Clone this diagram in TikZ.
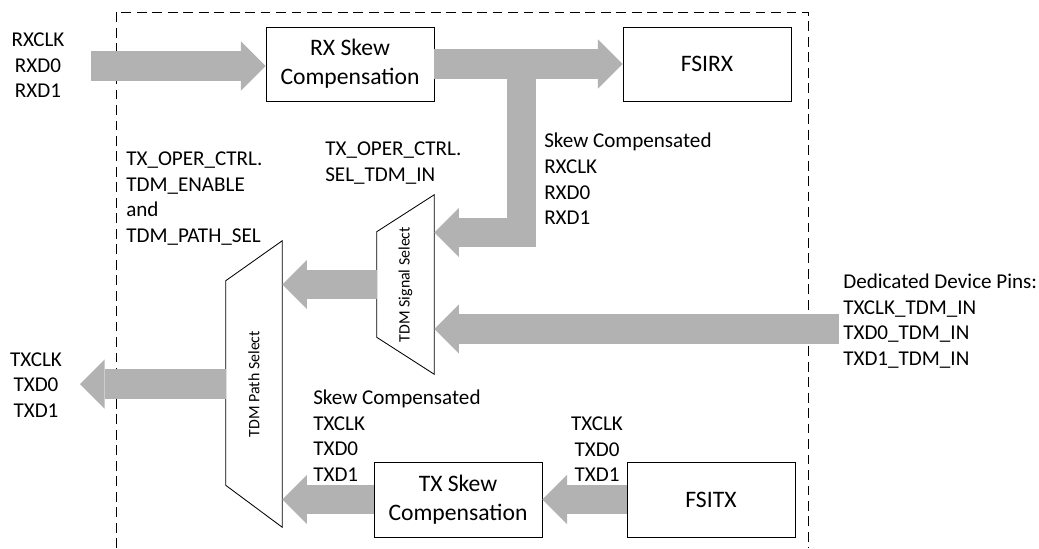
\documentclass[tikz,border=0pt]{standalone}
\usepackage{fontspec}
\setmainfont{Carlito}
\usetikzlibrary{arrows.meta,calc}
\definecolor{busgray}{RGB}{178,178,178}
\begin{document}
\begin{tikzpicture}[x=0.025cm,y=-0.025cm,line join=miter,
	lbl/.style={inner sep=0pt,font=\fontsize{15pt}{18.2pt}\selectfont},
	blk/.style={draw,line width=0.6pt,align=center,inner sep=0pt,font=\fontsize{16.8pt}{20.5pt}\selectfont},
	mux/.style={inner sep=0pt,font=\fontsize{11.3pt}{13pt}\selectfont},
	muxline/.style={draw,line width=0.6pt},
	bus/.style={draw=busgray,line width=21.3pt,-{Triangle[length=17.5pt,width=35pt,line width=0pt]}}]
	\def\pxu{0.025cm} % one pixel of the layout
	\useasboundingbox (0,0) rectangle (1039,548);
	\draw[dash pattern=on 7pt off 4pt,line width=0.6pt] (116,548) |- (808,12) -- (808,548);
	% blocks
	\node[blk,minimum width=168*\pxu,minimum height=74*\pxu] (rxskew) at (350,64) {RX Skew\\Compensation};
	\node[blk,minimum width=168*\pxu,minimum height=74*\pxu] (fsirx) at (707,64) {FSIRX};
	\node[blk,minimum width=168*\pxu,minimum height=75*\pxu] (txskew) at (458,499.5) {TX Skew\\Compensation};
	\node[blk,minimum width=168*\pxu,minimum height=75*\pxu] (fsitx) at (711,499.5) {FSITX};
	% muxes
	\node[mux,minimum width=57*\pxu,minimum height=179*\pxu] (sigsel) at (405.5,284.5) {\rotatebox{90}{TDM Signal Select}};
	\node[mux,minimum width=56*\pxu,minimum height=286*\pxu] (pathsel) at (254,384) {\rotatebox{90}{TDM Path Select}};
	\draw[muxline] (sigsel.north east) -- (sigsel.south east) -- ($(sigsel.south west)+(0,-37)$) -- ($(sigsel.north west)+(0,37)$) -- cycle;
	\draw[muxline] (pathsel.north east) -- (pathsel.south east) -- ($(pathsel.south west)+(0,-42)$) -- ($(pathsel.north west)+(0,40)$) -- cycle;
	% labels
	\node[lbl,align=center] (rxlbl) at (38,65.5) {RXCLK\\RXD0\\RXD1};
	\node[lbl,align=left,anchor=west] (enlbl) at (126,198.5) {TX\_OPER\_CTRL.\\TDM\_ENABLE\\and\\TDM\_PATH\_SEL};
	\node[lbl,align=left,anchor=west] (sellbl) at (325,163) {TX\_OPER\_CTRL.\\SEL\_TDM\_IN};
	\node[lbl,align=left,anchor=west] (rxclbl) at (544,179) {Skew Compensated\\RXCLK\\RXD0\\RXD1};
	\node[lbl,align=left,anchor=west] (pinslbl) at (843,321) {Dedicated Device Pins:\\TXCLK\_TDM\_IN\\TXD0\_TDM\_IN\\TXD1\_TDM\_IN};
	\node[lbl,align=left,anchor=west] (txclbl) at (313,435.5) {Skew Compensated\\TXCLK\\TXD0\\TXD1};
	\node[lbl,align=center] (fsitxlbl) at (597,449.5) {TXCLK\\TXD0\\TXD1};
	\node[lbl,align=center] (txlbl) at (36,385) {TXCLK\\TXD0\\TXD1};
	% buses
	\coordinate (rxin) at (91,66);
	\coordinate (tee) at (521.5,64);
	\coordinate (pinsin) at (839,329);
	\coordinate (txout) at (80,384);
	\draw[bus] (rxin) -- (rxin -| rxskew.west);
	\draw[bus] (rxskew.east) -- (fsirx.west);
	\draw[bus] (tee) |- ($(sigsel.east)+(0,-52)$);
	\draw[bus] (pinsin) -- (pinsin -| sigsel.east);
	\draw[bus] (sigsel.west) -- (sigsel.west -| pathsel.east);
	\draw[bus] (fsitx.west) -- (txskew.east);
	\draw[bus] (txskew.west) -- (txskew.west -| pathsel.east);
	\draw[bus] (pathsel.west) -- (txout);
\end{tikzpicture}
\end{document}
